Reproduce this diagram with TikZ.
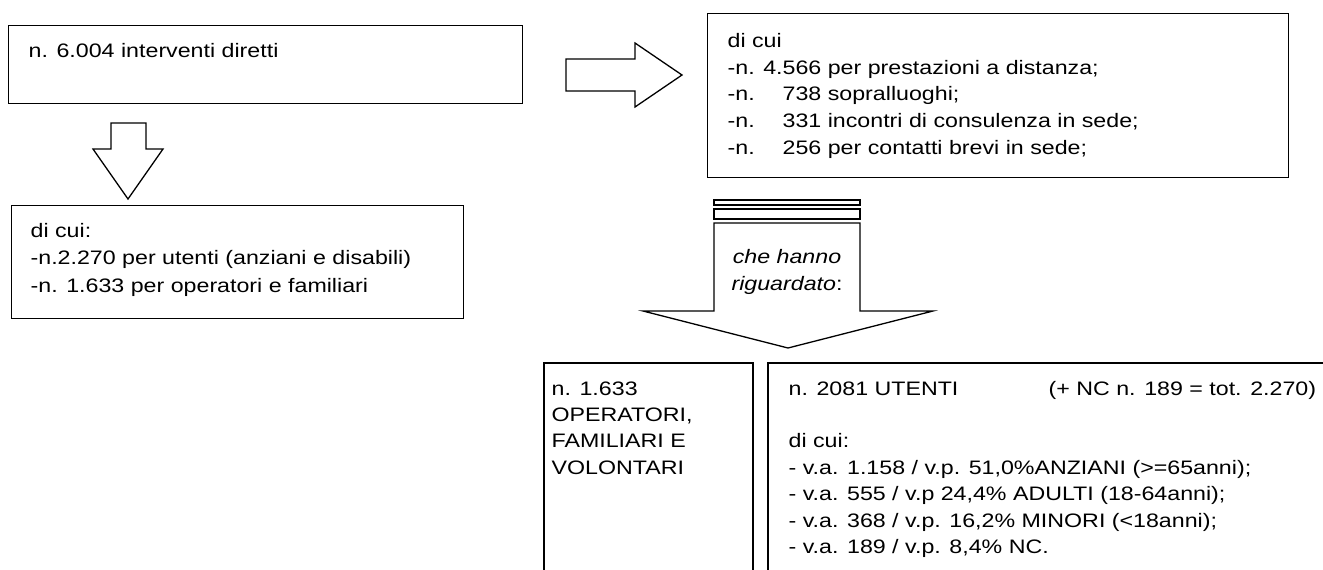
\documentclass[tikz,border=0pt]{standalone}
\usepackage{fontspec}
\setmainfont{Liberation Sans}[FakeStretch=1.19]
\begin{document}
\begin{tikzpicture}[x=1pt,y=-1pt,line width=1.3pt,
  txt/.style={anchor=base west,inner sep=0pt,font=\fontsize{19.5}{26.5}\selectfont},
  ctxt/.style={anchor=base,inner sep=0pt,font=\fontsize{19.5}{26.5}\selectfont},
  box/.style={draw,anchor=north west,inner sep=0pt},
  blockarrow/.style={draw,line join=miter,fill=white}]
\useasboundingbox (0,0) rectangle (1323,570);

% boxes
\node[box,minimum width=514pt,minimum height=78pt] (boxA) at (8,25) {};
\node[box,minimum width=452pt,minimum height=113pt] (boxB) at (11,205) {};
\node[box,minimum width=581pt,minimum height=164pt] (boxC) at (707,13) {};

% texts box A
\node[txt] (tA) at (28,57) {n. 6.004 interventi diretti};

% texts box B
\node[txt] (tB1) at (30,237) {di cui:};
\node[txt] (tB2) at (30,264) {-n.2.270 per utenti (anziani e disabili)};
\node[txt] (tB3) at (30,292) {-n. 1.633 per operatori e familiari};

% texts box C
\node[txt] (tC1) at (727,47) {di cui};
\node[txt] (tC2) at (727,74) {-n. 4.566 per prestazioni a distanza;};
\node[txt] (tC3) at (727,100.5) {-n. \hphantom{4.566}\llap{738} sopralluoghi;};
\node[txt] (tC4) at (727,127) {-n. \hphantom{4.566}\llap{331} incontri di consulenza in sede;};
\node[txt] (tC5) at (727,154) {-n. \hphantom{4.566}\llap{256} per contatti brevi in sede;};

% block arrows
\draw[blockarrow] (566,59) -- (635,59) -- (635,43) -- (682,75) -- (635,107) -- (635,91) -- (566,91) -- cycle;
\draw[blockarrow] (111,123) -- (146,123) -- (146,149) -- (163,149) -- (128,199) -- (93,149) -- (111,149) -- cycle;

\draw[line width=1.1pt] (714,200) rectangle (860,205);
\draw[line width=1.1pt] (714,209) rectangle (860,219);
\draw[blockarrow] (714,223) -- (860,223) -- (860,311) -- (933,311) -- (788,348) -- (643,311) -- (714,311) -- cycle;
\node[ctxt] (tD1) at (787,263) {\itshape che hanno};
\node[ctxt] (tD2) at (787,290) {\textit{riguardato}:};

% bottom open boxes
\draw (544,575) -- (544,363) -- (753,363) -- (753,575);
\draw (768,575) -- (768,363) -- (1330,363);

\node[txt] (tE1) at (551,395) {n. 1.633};
\node[txt] (tE2) at (551,421.4) {OPERATORI,};
\node[txt] (tE3) at (551,447.8) {FAMILIARI E};
\node[txt] (tE4) at (551,474.2) {VOLONTARI};

\node[txt] (tF1) at (788,395) {n. 2081 UTENTI};
\node[txt] (tF0) at (1048,395) {(+ NC n. 189 = tot. 2.270)};
\node[txt] (tF2) at (788,447.8) {di cui:};
\node[txt] (tF3) at (788,474.2) {- v.a. 1.158 / v.p. 51,0\%ANZIANI (>=65anni);};
\node[txt] (tF4) at (788,500.6) {- v.a. 555 / v.p 24,4\% ADULTI (18-64anni);};
\node[txt] (tF5) at (788,527) {- v.a. 368 / v.p. 16,2\% MINORI (<18anni);};
\node[txt] (tF6) at (788,553.4) {- v.a. 189 / v.p. 8,4\% NC.};
\end{tikzpicture}
\end{document}
